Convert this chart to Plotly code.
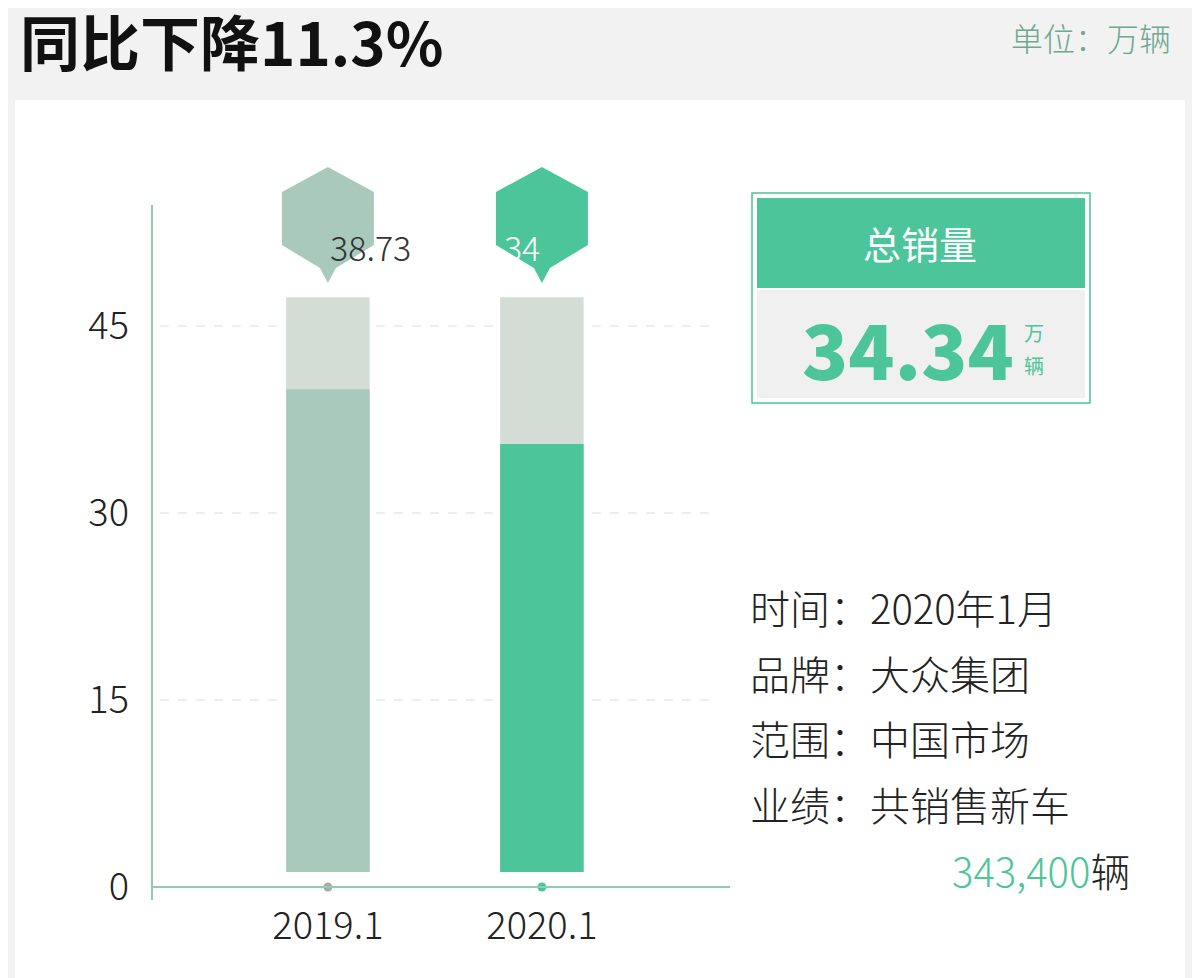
import plotly.graph_objects as go

categories = ["2019.1", "2020.1"]
values = [38.73, 34.34]
bar_colors = ["#a8c9bc", "#4cc59a"]
bg_top = 47.3
base = 1.2
y_ticks = [0, 15, 30, 45]
total_text = "34.34"
info_lines = ["时间：2020年1月", "品牌：大众集团", "范围：中国市场", "业绩：共销售新车"]
F = "Noto Sans CJK SC"

OFF = 8
W, H = 1200, 978
L, R, T, B = 152 - OFF, 470 + OFF, 205 - OFF, 78 + OFF
xr = [-0.822, 1.879]
yr = [-1.04, 54.7]
pw, ph = W - L - R, H - T - B
def px2x(p): return xr[0] + (p - OFF - L) / pw * (xr[1] - xr[0])
def py2y(p): return yr[0] + (H - B - (p - OFF)) / ph * (yr[1] - yr[0])
def x2px(x): return L + OFF + (x - xr[0]) / (xr[1] - xr[0]) * pw
def ppx(p): return (p - OFF - L) / pw
def ppy(p): return (H - B - (p - OFF)) / ph

fig = go.Figure()
xs = list(range(len(categories)))
fig.add_bar(x=xs, y=[bg_top - base] * 2, base=base, width=0.39, marker_color="#d3ddd6", marker_line_width=0, hoverinfo="skip")
fig.add_bar(x=xs, y=values, base=base, width=0.39, marker_color=bar_colors, marker_line_width=0)
fig.add_scatter(x=xs, y=[0, 0], mode="markers", marker=dict(size=9, color=["#aaaaaa", "#4cc59a"]), cliponaxis=False)

shapes = []
ann = []
shapes.append(dict(type="rect", xref="paper", yref="paper", x0=-1, x1=2, y0=-1, y1=2, fillcolor="#f2f2f2", line_width=0, layer="below"))
def rect_px(x0, x1, y0, y1, **kw):
    d = dict(type="rect", xref="paper", yref="paper", x0=ppx(x0), x1=ppx(x1), y0=ppy(y1), y1=ppy(y0))
    d.update(kw); return d
shapes.append(rect_px(15, 1185, 100, 1000, fillcolor="white", line_width=0, layer="below"))
for t in y_ticks[1:]:
    shapes.append(dict(type="line", x0=px2x(160), x1=px2x(715), y0=t, y1=t, line=dict(color="#dddddd", width=1, dash="dash"), layer="below"))
shapes.append(dict(type="line", x0=px2x(137), x1=px2x(730), y0=0, y1=0, line=dict(color="#8fcdb3", width=2)))
shapes.append(dict(type="line", xref="paper", yref="paper", x0=ppx(152), x1=ppx(152), y0=ppy(205), y1=ppy(900), line=dict(color="#8fcdb3", width=2)))

for i, v in enumerate(values):
    cx = x2px(i)
    pts = [(cx, 167), (cx + 46, 192), (cx + 46, 245), (cx + 8, 268), (cx, 283), (cx - 8, 268), (cx - 46, 245), (cx - 46, 192)]
    path = "M " + " L ".join(f"{ppx(a)},{ppy(b)}" for a, b in pts) + " Z"
    shapes.append(dict(type="path", xref="paper", yref="paper", path=path, fillcolor=bar_colors[i], line_width=0))
    ann.append(dict(xref="paper", yref="paper", x=ppx(cx), y=ppy(220), text=f"{v:.2f}", showarrow=False,
                    font=dict(family=F, size=34, color="#333" if i == 0 else "white", weight=300)))

shapes.append(rect_px(752, 1090, 193, 403, fillcolor="white", line=dict(color="#4cc59a", width=1.5)))
shapes.append(rect_px(757, 1085, 198, 288, fillcolor="#4cc59a", line_width=0))
shapes.append(rect_px(757, 1085, 290, 398, fillcolor="#f0f0f0", line_width=0))

def pa(x, y, text, size, color, anchor="left", weight=400):
    ann.append(dict(xref="paper", yref="paper", x=ppx(x), y=ppy(y), text=text, showarrow=False,
                    xanchor=anchor, yanchor="middle", font=dict(family=F, size=size, color=color, weight=weight)))
pa(920, 243, "总销量", 38, "white", "center")
pa(1016, 347, total_text, 76, "#4cc59a", "right", 900)
pa(1022, 332, "万", 20, "#4cc59a")
pa(1022, 365, "辆", 20, "#4cc59a")
for k, line in enumerate(info_lines):
    pa(748, 607 + k * 65.5, line, 40, "#222222", weight=300)
pa(1132, 870, "<span style='color:#4cc59a'>343,400</span>辆", 40, "#222222", "right", 300)
pa(18, 40, "同比下降11.3%", 60, "#111111", weight=700)
pa(1173, 37, "单位：万辆", 32, "#6fa88f", "right", 300)

fig.update_layout(
    width=W, height=H, margin=dict(l=L, r=R, t=T, b=B), paper_bgcolor="#f2f2f2", plot_bgcolor="rgba(0,0,0,0)",
    showlegend=False, barmode="overlay", shapes=shapes, annotations=ann,
    xaxis=dict(range=xr, tickvals=xs, ticktext=categories, showgrid=False, zeroline=False, showline=False,
               tickfont=dict(family=F, size=38, color="#222", weight=300), ticks=""),
    yaxis=dict(range=yr, tickvals=y_ticks, showgrid=False, zeroline=False, showline=False, ticks="",
               tickfont=dict(family=F, size=38, color="#222", weight=300), ticklabelstandoff=22),
)
fig.write_html("out.html")
